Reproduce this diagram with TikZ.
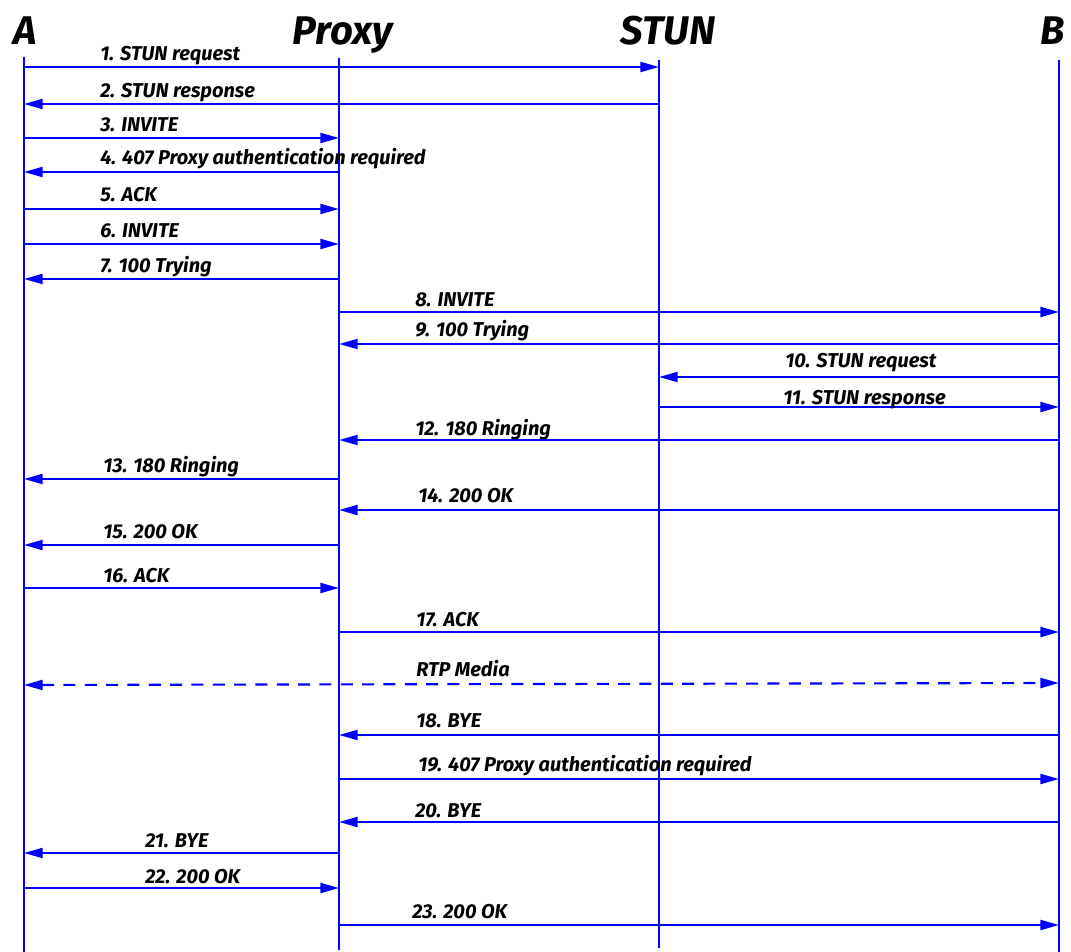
\documentclass[tikz,border=0pt]{standalone}
\usepackage{fontspec}
\setmainfont{Fira Sans}
\usetikzlibrary{arrows.meta}
\definecolor{sipblue}{RGB}{0,0,255}

\begin{document}
\begin{tikzpicture}[
    x=0.75pt, y=-0.75pt,
    head/.style={anchor=base,font=\fontsize{30}{30}\selectfont\bfseries\itshape,inner sep=0pt},
    lbl/.style={anchor=base west,font=\fontsize{15}{15}\selectfont\bfseries\itshape,inner sep=0pt},
    life/.style={sipblue,line width=1.6pt},
    msg/.style={sipblue,line width=1.6pt,-{Triangle[length=14pt,width=7.5pt]}},
    media/.style={msg,{Triangle[length=14pt,width=7.5pt]}-{Triangle[length=14pt,width=7.5pt]},dash pattern=on 9pt off 7pt}
]
\useasboundingbox (0,0) rectangle (1071,952);

% participants
\node[head] (hA) at (25,45) {A};
\node[head] (hP) at (343,45) {Proxy};
\node[head] (hS) at (668,45) {STUN};
\node[head] (hB) at (1053,45) {B};

\coordinate (A) at (24,57);
\coordinate (P) at (339,58);
\coordinate (S) at (659,60);
\coordinate (B) at (1059,60);

\draw[life] (A) -- (A |- 0,952);
\draw[life] (P) -- (P |- 0,950);
\draw[life] (S) -- (S |- 0,948);
\draw[life] (B) -- (B |- 0,952);

% messages
\draw[msg] (A |- 0,67) -- (S |- 0,67);
\node[lbl] (m1) at (100,61) {1. STUN request};
\draw[msg] (S |- 0,104) -- (A |- 0,104);
\node[lbl] (m2) at (100,98) {2. STUN response};
\draw[msg] (A |- 0,138) -- (P |- 0,138);
\node[lbl] (m3) at (100,132) {3. INVITE};
\draw[msg] (P |- 0,172) -- (A |- 0,172);
\node[lbl] (m4) at (100,165) {4. 407 Proxy authentication required};
\draw[msg] (A |- 0,209) -- (P |- 0,209);
\node[lbl] (m5) at (100,202) {5. ACK};
\draw[msg] (A |- 0,244) -- (P |- 0,244);
\node[lbl] (m6) at (100,238) {6. INVITE};
\draw[msg] (P |- 0,279) -- (A |- 0,279);
\node[lbl] (m7) at (100,273) {7. 100 Trying};
\draw[msg] (P |- 0,312) -- (B |- 0,312);
\node[lbl] (m8) at (415,306) {8. INVITE};
\draw[msg] (B |- 0,344) -- (P |- 0,344);
\node[lbl] (m9) at (415,337) {9. 100 Trying};
\draw[msg] (B |- 0,377) -- (S |- 0,377);
\node[lbl] (m10) at (785,368) {10. STUN request};
\draw[msg] (S |- 0,407) -- (B |- 0,407);
\node[lbl] (m11) at (783,404) {11. STUN response};
\draw[msg] (B |- 0,440) -- (P |- 0,440);
\node[lbl] (m12) at (415,435) {12. 180 Ringing};
\draw[msg] (P |- 0,479) -- (A |- 0,479);
\node[lbl] (m13) at (103,472) {13. 180 Ringing};
\draw[msg] (B |- 0,510) -- (P |- 0,510);
\node[lbl] (m14) at (418,502) {14. 200 OK};
\draw[msg] (P |- 0,545) -- (A |- 0,545);
\node[lbl] (m15) at (103,538) {15. 200 OK};
\draw[msg] (A |- 0,588) -- (P |- 0,588);
\node[lbl] (m16) at (103,582) {16. ACK};
\draw[msg] (P |- 0,632) -- (B |- 0,632);
\node[lbl] (m17) at (416,626) {17. ACK};
\draw[media] (A |- 0,685) -- (B |- 0,683);
\node[lbl] (rtp) at (416,676) {RTP Media};
\draw[msg] (B |- 0,735) -- (P |- 0,735);
\node[lbl] (m18) at (416,727) {18. BYE};
\draw[msg] (P |- 0,779) -- (B |- 0,779);
\node[lbl] (m19) at (418,771) {19. 407 Proxy authentication required};
\draw[msg] (B |- 0,822) -- (P |- 0,822);
\node[lbl] (m20) at (415,817) {20. BYE};
\draw[msg] (P |- 0,853) -- (A |- 0,853);
\node[lbl] (m21) at (145,847) {21. BYE};
\draw[msg] (A |- 0,888) -- (P |- 0,888);
\node[lbl] (m22) at (145,883) {22. 200 OK};
\draw[msg] (P |- 0,925) -- (B |- 0,925);
\node[lbl] (m23) at (412,918) {23. 200 OK};
\end{tikzpicture}
\end{document}
